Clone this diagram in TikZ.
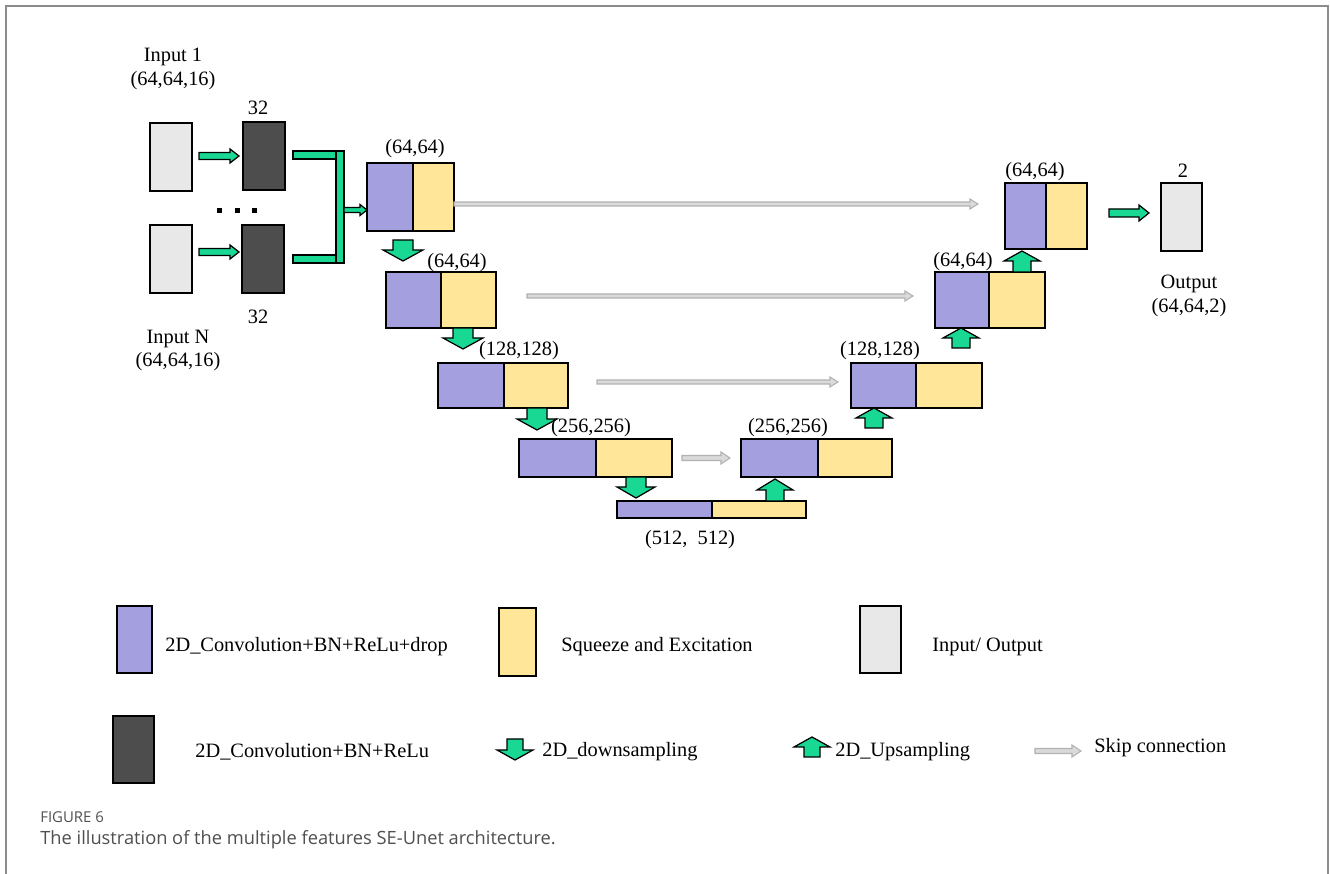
\documentclass[tikz,border=0pt]{standalone}
\usepackage{fontspec}
\setmainfont{Liberation Serif}
\newfontfamily\capfont{Open Sans}
\usetikzlibrary{fit,calc}
\definecolor{convc}{RGB}{164,160,224}
\definecolor{sec}{RGB}{255,230,153}
\definecolor{ioc}{RGB}{232,232,232}
\definecolor{dkc}{RGB}{77,77,77}
\definecolor{arrgreen}{RGB}{24,216,148}
\definecolor{skipfill}{RGB}{218,218,218}
\definecolor{skipdraw}{RGB}{178,178,178}
\definecolor{capgray}{RGB}{80,80,80}
\definecolor{framegray}{RGB}{140,140,140}
% horizontal block arrow: style, tail, tip, half shaft, head length, half head
\newcommand\hblk[6]{\draw[#1] ($(#2)-(0,#4)$) -- ($(#3)-(#5,#4)$) -- ($(#3)-(#5,#6)$) -- (#3) -- ($(#3)+(0,#6)-(#5,0)$) -- ($(#3)+(0,#4)-(#5,0)$) -- ($(#2)+(0,#4)$) -- cycle;}
% vertical block arrow: style, tail, tip, half shaft, head length (signed), half head
\newcommand\vblk[6]{\draw[#1] ($(#2)-(#4,0)$) -- ($(#3)-(#4,#5)$) -- ($(#3)-(#6,#5)$) -- (#3) -- ($(#3)+(#6,0)-(0,#5)$) -- ($(#3)+(#4,0)-(0,#5)$) -- ($(#2)+(#4,0)$) -- cycle;}
\begin{document}
\begin{tikzpicture}[x=0.02cm,y=-0.02cm,
  box/.style={draw=black, line width=1pt, inner sep=0pt, outer sep=0pt},
  conv/.style={box, fill=convc},
  sebox/.style={box, fill=sec},
  iobox/.style={box, fill=ioc},
  dkbox/.style={box, fill=dkc},
  lbl/.style={inner sep=0pt, font=\fontsize{11.6pt}{13pt}\selectfont},
  lgd/.style={lbl, anchor=west},
  garr/.style={draw=black, line width=0.7pt, fill=arrgreen, line join=miter},
  sarr/.style={draw=skipdraw, line width=0.6pt, fill=skipfill}]
\useasboundingbox (0,0) rectangle (1330,874);
\fill[white] (0,0) rectangle (1330,874);
\draw[framegray, line width=1.1pt] (6,874) -- (6,6) -- (1328,6) -- (1328,874);

% inputs
\node[iobox, fit={(150,123)(192,191)}] (in1) {};
\node[iobox, fit={(150,225)(192,293)}] (inN) {};
\node[dkbox, fit={(243,122)(285,190)}] (dk1) {};
\node[dkbox, fit={(242,225)(284,293)}] (dkN) {};
\node[lbl] (t1) at (173,57) {Input 1};
\node[lbl] (t1s) at (173,81) {(64,64,16)};
\node[lbl] (n32a) at (258,108) {32};
\node[lbl] (n32b) at (258,317) {32};
\node[lbl] (tN) at (178,339) {Input N};
\node[lbl] (tNs) at (178,362) {(64,64,16)};
\foreach \x [count=\i] in {219,237,254} \fill (\x-2.5,208.5) rectangle (\x+2.5,213.5);

% encoder
\node[conv, fit={(367,163)(413,231)}] (e1c) {};
\node[sebox, fit={(413,163)(454,231)}] (e1s) {};
\node[conv, fit={(386,272)(441,328)}] (e2c) {};
\node[sebox, fit={(441,272)(496,328)}] (e2s) {};
\node[conv, fit={(438,363)(504,408)}] (e3c) {};
\node[sebox, fit={(504,363)(568,408)}] (e3s) {};
\node[conv, fit={(519,439)(596,477)}] (e4c) {};
\node[sebox, fit={(596,439)(672,477)}] (e4s) {};
\node[conv, fit={(617,501)(712,518)}] (bc) {};
\node[sebox, fit={(712,501)(806,518)}] (bs) {};
% decoder
\node[conv, fit={(741,439)(818,477)}] (d4c) {};
\node[sebox, fit={(818,439)(892,477)}] (d4s) {};
\node[conv, fit={(851,363)(916,408)}] (d3c) {};
\node[sebox, fit={(916,363)(982,408)}] (d3s) {};
\node[conv, fit={(935,272)(989,328)}] (d2c) {};
\node[sebox, fit={(989,272)(1045,328)}] (d2s) {};
\node[conv, fit={(1005,183)(1046,249)}] (d1c) {};
\node[sebox, fit={(1046,183)(1087,249)}] (d1s) {};
\node[iobox, fit={(1161,183)(1202,251)}] (out) {};

% size labels
\node[lbl] (s1) at (415,149) {(64,64)};
\node[lbl] (s2) at (457,263) {(64,64)};
\node[lbl] (s3) at (519,351) {(128,128)};
\node[lbl] (s4) at (591,428) {(256,256)};
\node[lbl] (s5) at (690,540) {(512,\ \ 512)};
\node[lbl] (s6) at (788,428) {(256,256)};
\node[lbl] (s7) at (880,351) {(128,128)};
\node[lbl] (s8) at (963,262) {(64,64)};
\node[lbl] (s9) at (1035,172) {(64,64)};
\node[lbl] (s10) at (1183,171) {2};
\node[lbl] (to) at (1189,284) {Output};
\node[lbl] (tos) at (1189,308) {(64,64,2)};

% green horizontal arrows
\coordinate (a1s) at (199,156); \coordinate (a1e) at (239,156);
\coordinate (aNs) at (199,252); \coordinate (aNe) at (239,252);
\hblk{garr}{a1s}{a1e}{3.5}{9}{7}
\hblk{garr}{aNs}{aNe}{3.5}{9}{7}
% merge bracket
\draw[garr] (293,151) -- (344,151) -- (344,263) -- (293,263) -- (293,255) -- (336,255) -- (336,159) -- (293,159) -- cycle;
\draw[line width=0.7pt] (336,151) -- (336,159) (336,255) -- (336,263);
\coordinate (ms) at (344,210); \coordinate (me) at (367,210);
\hblk{garr}{ms}{me}{2.5}{7}{5.5}
\coordinate (os) at (1109,213); \coordinate (oe) at (1149,213);
\hblk{garr}{os}{oe}{4}{10}{8}

% down / up block arrows
\coordinate (dn1a) at (403,240); \coordinate (dn1b) at (403,261);
\coordinate (dn2a) at (463,328); \coordinate (dn2b) at (463,349);
\coordinate (dn3a) at (537,408); \coordinate (dn3b) at (537,430);
\coordinate (dn4a) at (636,477); \coordinate (dn4b) at (636,498);
\vblk{garr}{dn1a}{dn1b}{10}{11}{20}
\vblk{garr}{dn2a}{dn2b}{10}{11}{20}
\vblk{garr}{dn3a}{dn3b}{10}{11}{20}
\vblk{garr}{dn4a}{dn4b}{10}{11}{19}
\coordinate (up4a) at (775,501); \coordinate (up4b) at (775,479);
\coordinate (up3a) at (874,428); \coordinate (up3b) at (874,408);
\coordinate (up2a) at (961,348); \coordinate (up2b) at (961,328);
\coordinate (up1a) at (1022,272); \coordinate (up1b) at (1022,251);
\vblk{garr}{up4a}{up4b}{9}{-11}{18}
\vblk{garr}{up3a}{up3b}{9}{-10}{18}
\vblk{garr}{up2a}{up2b}{9}{-10}{18}
\vblk{garr}{up1a}{up1b}{9}{-10}{18}

% skip connections
\coordinate (k1s) at (454,204); \coordinate (k1e) at (978,204);
\coordinate (k2s) at (527,296); \coordinate (k2e) at (913,296);
\coordinate (k3s) at (597,382); \coordinate (k3e) at (838,382);
\coordinate (k4s) at (682,458); \coordinate (k4e) at (730,458);
\hblk{sarr}{k1s}{k1e}{2}{8}{5}
\hblk{sarr}{k2s}{k2e}{2}{8}{5}
\hblk{sarr}{k3s}{k3e}{2}{8}{5}
\hblk{sarr}{k4s}{k4e}{2.5}{9}{6}

% legend
\node[conv, fit={(117,606)(152,673)}] (lg1) {};
\node[sebox, fit={(499,608)(536,676)}] (lg2) {};
\node[iobox, fit={(860,606)(901,673)}] (lg3) {};
\node[dkbox, fit={(113,716)(154,783)}] (lg4) {};
\node[lgd] (lt1) at (165,647) {2D\_Convolution+BN+ReLu+drop};
\node[lgd] (lt2) at (561,647) {Squeeze and Excitation};
\node[lgd] (lt3) at (932,647) {Input/ Output};
\node[lgd] (lt4) at (195,752) {2D\_Convolution+BN+ReLu};
\node[lgd] (lt5) at (542,752) {2D\_downsampling};
\node[lgd] (lt6) at (835,752) {2D\_Upsampling};
\node[lgd] (lt7) at (1094,748) {Skip connection};
\coordinate (lda) at (515,739); \coordinate (ldb) at (515,760);
\vblk{garr}{lda}{ldb}{8}{10}{18}
\coordinate (lua) at (812,757); \coordinate (lub) at (812,737);
\vblk{garr}{lua}{lub}{8}{-10}{18}
\coordinate (lks) at (1035,751); \coordinate (lke) at (1081,751);
\hblk{sarr}{lks}{lke}{2.5}{9}{6}

% caption
\node[anchor=west, inner sep=0pt, text=capgray, font=\capfont\fontsize{8.5pt}{10pt}\selectfont] (fig) at (40,817) {FIGURE 6};
\node[anchor=west, inner sep=0pt, text=capgray, font=\capfont\fontsize{10.4pt}{12pt}\selectfont] (cap) at (40,840) {The illustration of the multiple features SE-Unet architecture.};
\end{tikzpicture}
\end{document}
